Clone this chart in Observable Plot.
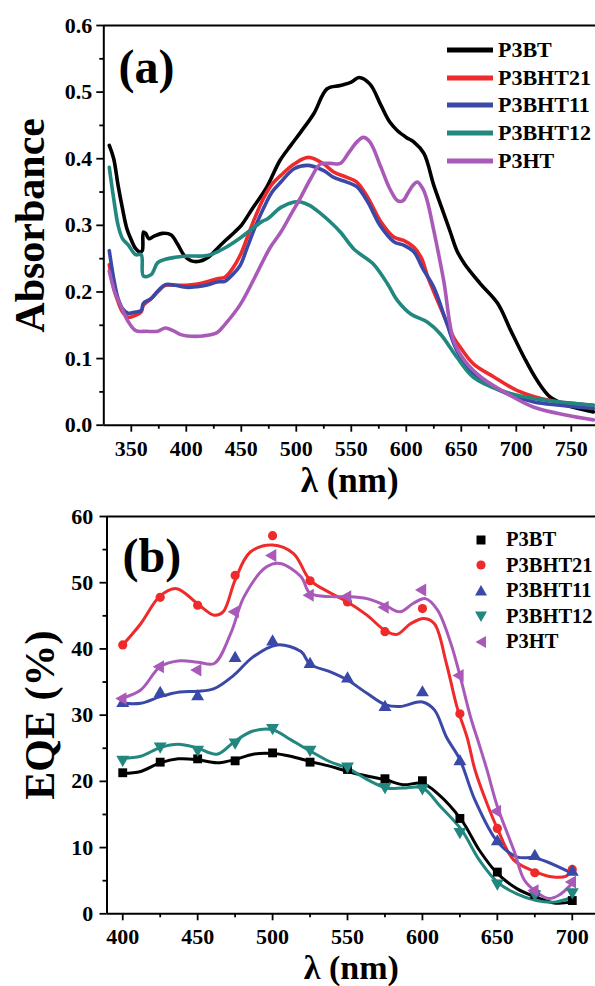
<!DOCTYPE html>
<html>
<head>
<meta charset="utf-8">
<script src="https://cdn.jsdelivr.net/npm/d3@7"></script>
<script src="https://cdn.jsdelivr.net/npm/@observablehq/plot@0.6"></script>
<style>
  html, body { margin: 0; padding: 0; background: #fff; }
  #chart { position: relative; width: 595px; height: 986px; background: #fff; overflow: hidden; }
  #chart svg { display: block; }
  .legend { position: absolute; font-family: "Liberation Serif", "Times New Roman", serif; font-weight: bold; color: #000; }
  .legend .row { display: flex; align-items: center; white-space: nowrap; }
</style>
</head>
<body>
<div id="chart"></div>
<script>
// ---------- shared ----------
const seriesNames = ["P3BT", "P3BHT21", "P3BHT11", "P3BHT12", "P3HT"];
const seriesColors = ["#000000", "#ee2a2a", "#3a49a8", "#21877f", "#a95ab9"];

// ---------- panel (a): absorbance ----------
const absTicks = [0, 0.1, 0.2, 0.3, 0.4, 0.5, 0.6];
const absMinorTicks = [0.05, 0.15, 0.25, 0.35, 0.45, 0.55];
const absNmTicks = [350, 400, 450, 500, 550, 600, 650, 700, 750];
const absNmMinorTicks = [375, 425, 475, 525, 575, 625, 675, 725];

const absP3BT_nm = [330,334,338,342,346,350,354,358,360,361,363,366,370,378,386,392,398,404,412,420,428,436,444,450,460,473,485,495,504,516,528,540,550,557,567,577,585,592,600,607,616,625,634,640,646,653,667,683,695,707,719,731,746,770];
const absP3BT = [0.42,0.40,0.36,0.325,0.295,0.278,0.265,0.26,0.262,0.29,0.288,0.28,0.283,0.288,0.286,0.272,0.255,0.247,0.246,0.252,0.265,0.278,0.29,0.30,0.325,0.357,0.397,0.42,0.44,0.468,0.505,0.51,0.515,0.522,0.512,0.48,0.455,0.442,0.432,0.425,0.408,0.36,0.318,0.29,0.262,0.242,0.213,0.183,0.142,0.102,0.067,0.042,0.03,0.02];

const absP3BHT21_nm = [330,334,338,342,347,354,359,361,368,375,381,390,400,410,418,428,435,442,449,455,462,470,478,486,498,511,525,534,546,555,565,577,589,598,607,614,619,631,643,649,661,680,701,731,770];
const absP3BHT21 = [0.241,0.205,0.185,0.17,0.162,0.165,0.17,0.18,0.19,0.202,0.21,0.21,0.21,0.212,0.215,0.22,0.222,0.235,0.255,0.28,0.31,0.34,0.362,0.375,0.392,0.402,0.392,0.38,0.372,0.365,0.342,0.305,0.282,0.277,0.267,0.25,0.225,0.177,0.132,0.117,0.092,0.072,0.052,0.037,0.03];

const absP3BHT11_nm = [330,334,338,342,347,354,359,361,368,375,381,390,400,410,418,428,435,442,449,455,462,470,478,486,498,511,525,534,546,555,565,576,589,598,607,615,625,637,646,661,676,692,716,740,770];
const absP3BHT11 = [0.262,0.22,0.19,0.175,0.168,0.17,0.172,0.183,0.19,0.203,0.211,0.21,0.207,0.208,0.21,0.215,0.216,0.226,0.24,0.265,0.295,0.325,0.35,0.365,0.385,0.39,0.382,0.372,0.365,0.358,0.335,0.3,0.275,0.27,0.26,0.235,0.207,0.152,0.112,0.077,0.06,0.047,0.035,0.03,0.025];

const absP3BHT12_nm = [330,334,338,342,347,354,359,361,368,374,381,390,401,415,422,435,449,460,469,474,486,498,504,512,522,531,540,552,558,570,583,592,604,619,631,646,661,686,716,770];
const absP3BHT12 = [0.387,0.34,0.30,0.28,0.271,0.256,0.256,0.224,0.226,0.244,0.249,0.252,0.254,0.254,0.256,0.266,0.281,0.295,0.306,0.31,0.327,0.335,0.335,0.33,0.318,0.305,0.29,0.265,0.257,0.242,0.212,0.187,0.167,0.155,0.137,0.102,0.072,0.052,0.04,0.03];

const absP3HT_nm = [330,335,340,347,354,364,374,381,388,395,401,415,428,435,449,462,476,486,495,504,513,522,531,540,548,555,561,567,577,585,592,597,601,606,610,615,619,625,634,643,653,668,692,716,746,770];
const absP3HT = [0.231,0.2,0.181,0.156,0.142,0.141,0.141,0.146,0.142,0.136,0.134,0.134,0.139,0.151,0.181,0.221,0.266,0.29,0.316,0.342,0.37,0.392,0.393,0.393,0.41,0.425,0.432,0.425,0.387,0.355,0.337,0.337,0.347,0.36,0.365,0.355,0.337,0.292,0.217,0.127,0.097,0.072,0.047,0.027,0.015,0.008];

// ---------- panel (b): EQE ----------
const eqeTicks = [0, 10, 20, 30, 40, 50, 60];
const eqeMinorTicks = [5, 15, 25, 35, 45, 55];
const eqeNmTicks = [400, 450, 500, 550, 600, 650, 700];
const eqeNmMinorTicks = [425, 475, 525, 575, 625, 675];

const eqeNm = [400,425,450,475,500,525,550,575,600,625,650,675,700];
const eqeP3BT    = [21.3,22.9,23.4,23.1,24.3,22.9,21.8,20.4,20.1,14.4,6.3,2.9,2.0];
const eqeP3BHT21 = [40.6,47.8,46.6,51.1,57.1,50.3,47.1,42.6,46.1,30.2,12.9,6.2,6.7];
const eqeP3BHT11 = [31.8,33.3,32.8,38.6,41.1,37.7,35.5,31.2,33.4,23.0,10.9,8.7,6.3];
const eqeP3BHT12 = [23.3,25.3,24.8,25.9,28.1,24.8,22.3,19.2,19.0,12.4,4.6,3.0,3.3];
const eqeP3HT    = [32.5,37.3,36.8,45.6,54.1,48.1,47.9,46.3,48.9,36.0,15.5,3.5,4.8];

// smoothed fit curves as drawn in the figure
const fitP3BT_nm = [400,412,425,437,449,463,475,487,500,512,525,538,550,563,576,587,600,610,626,638,650,663,676,689,700];
const fitP3BT = [21.2,21.5,22.8,23.4,23.3,22.8,23.3,24.1,24.2,23.8,23.0,22.3,21.5,20.8,20.2,19.5,19.7,18.2,14.2,9.6,6.1,3.8,2.5,1.6,1.8];
const fitP3BHT21_nm = [400,412,425,436,450,461,467,475,485,500,514,525,539,550,563,575,583,592,601,608,616,623,630,635,643,650,661,676,686,696,700];
const fitP3BHT21 = [40.6,43.8,48.0,49.1,46.8,45.1,45.6,50.4,54.6,55.7,54.4,50.4,48.4,47.1,45.1,42.8,42.2,43.8,44.6,43.8,37.8,31.3,26.5,21.8,16.7,12.9,8.1,6.3,5.6,5.7,6.8];
const fitP3BHT11_nm = [400,412,425,438,450,461,474,487,503,519,525,539,550,563,575,585,600,608,616,625,635,650,663,676,700];
const fitP3BHT11 = [31.8,31.8,32.8,33.5,33.6,34.0,36.0,38.8,40.6,39.6,37.7,36.5,35.3,33.3,31.6,31.3,32.0,30.8,26.7,23.3,17.2,10.9,8.6,8.4,6.1];
const fitP3BHT12_nm = [400,412,425,437,449,463,475,487,500,512,525,538,550,563,576,587,600,612,626,638,650,663,676,689,700];
const fitP3BHT12 = [23.5,23.8,25.1,25.6,25.1,24.1,26.1,27.6,27.8,26.3,24.6,23.0,22.0,20.3,19.0,19.0,19.0,16.2,12.7,8.1,4.8,3.0,2.0,1.8,2.5];
const fitP3HT_nm = [400,412,425,438,450,461,472,481,496,505,519,525,539,550,563,575,585,594,602,610,619,625,632,637,643,650,661,668,676,684,691,700];
const fitP3HT = [32.6,33.8,37.3,38.2,38.0,37.8,42.3,47.9,52.4,52.9,50.9,48.4,47.9,47.9,47.6,46.6,45.6,46.9,47.6,45.9,40.8,36.0,29.8,26.2,21.8,16.2,9.6,5.1,3.3,2.3,2.8,4.6];

// ---------- build tables ----------
const zipRows = (name, xs, ys) => xs.map((x, i) => ({series: name, x, y: ys[i]}));
const absRows = [
  ...zipRows("P3BT", absP3BT_nm, absP3BT),
  ...zipRows("P3BHT21", absP3BHT21_nm, absP3BHT21),
  ...zipRows("P3BHT11", absP3BHT11_nm, absP3BHT11),
  ...zipRows("P3BHT12", absP3BHT12_nm, absP3BHT12),
  ...zipRows("P3HT", absP3HT_nm, absP3HT)
];
const eqeMarkerSets = [eqeP3BT, eqeP3BHT21, eqeP3BHT11, eqeP3BHT12, eqeP3HT];
const fitSets = [[fitP3BT_nm, fitP3BT], [fitP3BHT21_nm, fitP3BHT21], [fitP3BHT11_nm, fitP3BHT11], [fitP3BHT12_nm, fitP3BHT12], [fitP3HT_nm, fitP3HT]];

const FONT = '"Liberation Serif", "Times New Roman", serif';
const color = {domain: seriesNames, range: seriesColors};

// ---------- plot (a) ----------
const plotA = Plot.plot({
  width: 595, height: 490,
  marginLeft: 103.3, marginRight: 0, marginTop: 25, marginBottom: 65.3,
  style: {fontFamily: FONT, fontWeight: "bold", fontSize: "22px", color: "#000", background: "#fff", overflow: "visible"},
  x: {domain: [325, 772]},
  y: {domain: [0, 0.6]},
  color,
  marks: [
    Plot.axisX({ticks: absNmTicks, tickSize: 7, tickPadding: 8, label: null, strokeWidth: 1.8, fontSize: 22}),
    Plot.axisX({ticks: absNmMinorTicks, tickSize: 4, text: null, label: null, strokeWidth: 1.8}),
    Plot.axisY({ticks: absTicks, tickFormat: d3.format(".1f"), tickSize: 7, tickPadding: 4.5, label: null, strokeWidth: 1.8, fontSize: 22}),
    Plot.axisY({ticks: absMinorTicks, tickSize: 4, text: null, label: null, strokeWidth: 1.8}),
    Plot.ruleY([0], {strokeWidth: 2}),
    Plot.ruleY([0.6], {strokeWidth: 2}),
    Plot.ruleX([325], {strokeWidth: 2}),
    ...seriesNames.map(s => Plot.line(absRows.filter(d => d.series === s), {
      x: "x", y: "y", stroke: "series", strokeWidth: 3.6, curve: "catmull-rom", clip: true
    })),
    Plot.text(["(a)"], {frameAnchor: "top-left", textAnchor: "start", lineAnchor: "bottom", dx: 14.7, dy: 57, fontSize: 48, fontWeight: "bold"}),
    Plot.text(["λ (nm)"], {frameAnchor: "bottom", textAnchor: "middle", lineAnchor: "bottom", dy: 67, fontSize: 35, fontWeight: "bold"}),
    Plot.text(["Absorbance"], {frameAnchor: "left", textAnchor: "middle", rotate: -90, lineAnchor: "bottom", dx: -59.5, fontSize: 42, fontWeight: "bold"})
  ]
});

// ---------- plot (b) ----------
const symbols = [
  {symbol: "square", r: 5, rotate: 0},
  {symbol: "circle", r: 4.6, rotate: 0},
  {symbol: "triangle", r: 4.8, rotate: 0},
  {symbol: "triangle", r: 4.8, rotate: 180},
  {symbol: "triangle", r: 4.8, rotate: -90}
];
const plotB = Plot.plot({
  width: 595, height: 496,
  marginLeft: 106.5, marginRight: 0, marginTop: 26, marginBottom: 72.7,
  style: {fontFamily: FONT, fontWeight: "bold", fontSize: "22px", color: "#000", background: "#fff", overflow: "visible"},
  x: {domain: [389.5, 715.5]},
  y: {domain: [0, 60]},
  color,
  marks: [
    Plot.axisX({ticks: eqeNmTicks, tickSize: 7, tickPadding: 8, label: null, strokeWidth: 1.8, fontSize: 22}),
    Plot.axisX({ticks: eqeNmMinorTicks, tickSize: 4, text: null, label: null, strokeWidth: 1.8}),
    Plot.axisY({ticks: eqeTicks, tickSize: 7, tickPadding: 6.8, label: null, strokeWidth: 1.8, fontSize: 22}),
    Plot.axisY({ticks: eqeMinorTicks, tickSize: 4, text: null, label: null, strokeWidth: 1.8}),
    Plot.ruleY([0], {strokeWidth: 2}),
    Plot.ruleY([60], {strokeWidth: 2}),
    Plot.ruleX([389.5], {strokeWidth: 2}),
    ...seriesNames.map((s, i) => Plot.line(zipRows(s, fitSets[i][0], fitSets[i][1]), {
      x: "x", y: "y", stroke: "series", strokeWidth: 3, curve: "catmull-rom"
    })),
    ...seriesNames.map((s, i) => Plot.dot(zipRows(s, eqeNm, eqeMarkerSets[i]), {
      x: "x", y: "y", fill: "series", stroke: "none",
      symbol: symbols[i].symbol, r: symbols[i].r, rotate: symbols[i].rotate
    })),
    Plot.text(["(b)"], {frameAnchor: "top-left", textAnchor: "start", lineAnchor: "bottom", dx: 15.5, dy: 55, fontSize: 48, fontWeight: "bold"}),
    Plot.text(["λ (nm)"], {frameAnchor: "bottom", textAnchor: "middle", lineAnchor: "bottom", dy: 65.5, fontSize: 34, fontWeight: "bold"}),
    Plot.text(["EQE (%)"], {frameAnchor: "left", textAnchor: "middle", rotate: -90, lineAnchor: "bottom", dx: -53.5, fontSize: 42, fontWeight: "bold"})
  ]
});

const chart = document.getElementById("chart");
chart.appendChild(plotA);
chart.appendChild(plotB);

// ---------- legends (HTML overlays) ----------
const legA = document.createElement("div");
legA.className = "legend";
legA.style.left = "447px"; legA.style.top = "36px"; legA.style.fontSize = "22px";
seriesNames.forEach((s, i) => {
  const row = document.createElement("div");
  row.className = "row"; row.style.height = "27.8px";
  row.innerHTML = `<svg width="46" height="10" style="flex:none"><line x1="0" x2="46" y1="5" y2="5" stroke="${seriesColors[i]}" stroke-width="5" stroke-linecap="round"/></svg><span style="margin-left:5px">${s}</span>`;
  legA.appendChild(row);
});
chart.appendChild(legA);

const legendShapes = [
  c => `<rect x="5.5" y="5.5" width="9" height="9" fill="${c}"/>`,
  c => `<circle cx="10" cy="10" r="4.6" fill="${c}"/>`,
  c => `<polygon points="10,4 16,14.5 4,14.5" fill="${c}"/>`,
  c => `<polygon points="4,5.5 16,5.5 10,16" fill="${c}"/>`,
  c => `<polygon points="4.5,10 15,4 15,16" fill="${c}"/>`
];
const legB = document.createElement("div");
legB.className = "legend";
legB.style.left = "471px"; legB.style.top = "527px"; legB.style.fontSize = "20.5px";
seriesNames.forEach((s, i) => {
  const row = document.createElement("div");
  row.className = "row"; row.style.height = "25.5px";
  row.innerHTML = `<svg width="20" height="20" style="flex:none">${legendShapes[i](seriesColors[i])}</svg><span style="margin-left:15px">${s}</span>`;
  legB.appendChild(row);
});
chart.appendChild(legB);
</script>
</body>
</html>
